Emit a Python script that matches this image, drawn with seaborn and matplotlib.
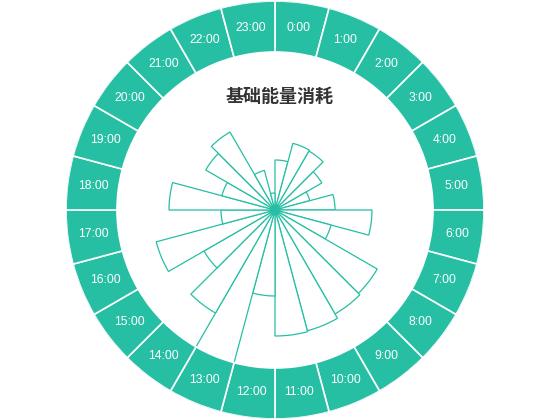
import numpy as np
import pandas as pd
import matplotlib
matplotlib.use('Agg')
import matplotlib.pyplot as plt
import seaborn as sns

sns.set_theme(style='white')
plt.rcParams['font.family'] = ['Liberation Sans', 'DejaVu Sans']

# hourly basal energy values
hours = [f'{h}:00' for h in range(24)]
energy = [50, 69, 68, 54, 36, 60, 97, 58, 118, 120, 125, 126,
          86, 175, 119, 82, 123, 54, 106, 55, 80, 90, 41, 17]

teal = '#26BFA4'
ring_in, ring_out = 158, 209

df = pd.DataFrame({'hour': hours, 'energy': energy})
df['theta'] = np.deg2rad(np.arange(24) * 15)
width = np.deg2rad(15)

fig = plt.figure(figsize=(5.5, 4.2), dpi=100)
ax = fig.add_axes([0.5 - 209 / 550, 0.5 - 209 / 420, 418 / 550, 418 / 420],
                  projection='polar')
ax.set_theta_zero_location('N')
ax.set_theta_direction(-1)

# rose wedges
ax.bar(df['theta'], df['energy'], width=width, align='edge',
       color='white', edgecolor=teal, linewidth=0.9, zorder=2)

# outer ring with hour labels
ax.bar(df['theta'], ring_out - ring_in, bottom=ring_in, width=width,
       align='edge', color=teal, edgecolor='white', linewidth=1.2, zorder=3)
for t, lab in zip(df['theta'], df['hour']):
    ax.text(t + width / 2, (ring_in + ring_out) / 2, lab, ha='center',
            va='center', color='white', fontsize=8.7, zorder=4)

ax.set_ylim(0, ring_out)
ax.set_xticks([])
ax.set_yticks([])
ax.grid(False)
ax.spines['polar'].set_visible(False)

fig.text(0.509, 1 - 97 / 420, '基础能量消耗', ha='center', va='center',
         fontsize=13, fontweight='bold', color='#333333',
         family=['Noto Sans CJK SC', 'DejaVu Sans'])

fig.savefig('out.png', dpi=100)
